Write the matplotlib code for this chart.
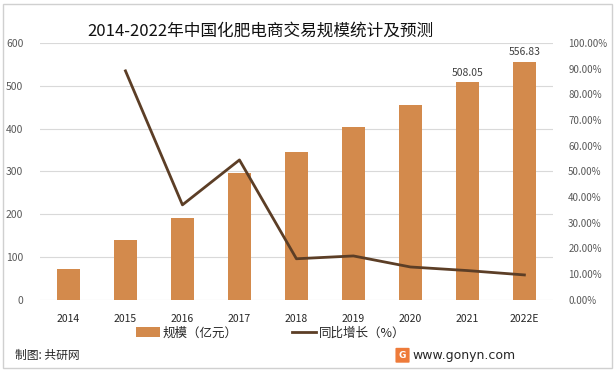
import matplotlib.pyplot as plt
from matplotlib.patches import Rectangle, FancyBboxPatch
from matplotlib.ticker import FuncFormatter

plt.rcParams['font.family'] = ['Noto Sans CJK SC', 'DejaVu Sans']

# data
years = ['2014', '2015', '2016', '2017', '2018', '2019', '2020', '2021', '2022E']
scale = [72, 140, 191, 296, 346, 404, 455, 508.05, 556.83]   # 亿元
growth = [None, 0.892, 0.370, 0.545, 0.160, 0.171, 0.128, 0.114, 0.097]
labelled = {7: '508.05', 8: '556.83'}

bar_color = '#D38A4C'
line_color = '#5C3E26'
tick_color = '#595959'

fig = plt.figure(figsize=(6.15, 3.72), dpi=100)
ax = fig.add_axes([0.065, 0.194, 0.834, 0.690])
ax2 = ax.twinx()

x = list(range(len(years)))
ax.bar(x, scale, width=0.41, color=bar_color, zorder=2, label='规模（亿元）')
for i, txt in labelled.items():
    ax.text(i, scale[i] + 10, txt, ha='center', va='bottom', fontsize=7.5, color='#404040')

gx = [i for i, g in zip(x, growth) if g is not None]
gy = [g for g in growth if g is not None]
ax2.plot(gx, gy, color=line_color, lw=2.0, zorder=3, label='同比增长（%）')

ax.set_xlim(-0.5, len(years) - 0.5)
ax.set_ylim(0, 600)
ax.set_yticks(range(0, 601, 100))
ax2.set_ylim(0, 1.0)
ax2.set_yticks([i / 10 for i in range(11)])
ax2.yaxis.set_major_formatter(FuncFormatter(lambda v, p: f'{v * 100:.2f}%'))

ax.set_xticks(x)
ax.set_xticklabels(years)
ax.grid(axis='y', color='#D9D9D9', lw=0.8, zorder=0)
ax.set_axisbelow(True)
for a in (ax, ax2):
    for s in a.spines.values():
        s.set_visible(False)
ax.tick_params(axis='y', length=0, labelsize=7.5, labelcolor=tick_color, pad=12)
ax2.tick_params(axis='y', length=0, labelsize=7, labelcolor=tick_color, pad=11)
ax.tick_params(axis='x', length=0, labelsize=7.5, labelcolor='#262626', pad=10)

fig.text(0.423, 0.917, '2014-2022年中国化肥电商交易规模统计及预测', ha='center', va='center',
         fontsize=12, color='#111111')

h1, l1 = ax.get_legend_handles_labels()
h2, l2 = ax2.get_legend_handles_labels()
fig.legend(h1 + h2, l1 + l2, loc='center', bbox_to_anchor=(0.44, 0.105), ncol=2,
           frameon=False, fontsize=9, handlelength=1.9, handleheight=0.9,
           columnspacing=4.4, handletextpad=0.2, labelcolor='#262626')

fig.text(0.025, 0.045, '制图: 共研网', fontsize=8.5, color='#262626', va='center')
fig.text(0.671, 0.045, 'www.gonyn.com', fontsize=9, color='#262626', va='center',
         family=['DejaVu Sans'])
logo = FancyBboxPatch((0.645, 0.027), 0.019, 0.036, boxstyle='round,pad=0.002',
                      transform=fig.transFigure, facecolor='#EE7B3A', edgecolor='none')
fig.patches.append(logo)
fig.text(0.6545, 0.045, 'G', fontsize=6.5, color='white', weight='bold', ha='center', va='center',
         family=['DejaVu Sans'])

fig.patches.append(Rectangle((0.005, 0.01), 0.99, 0.98, transform=fig.transFigure,
                             fill=False, edgecolor='#D0D0D0', lw=1))

fig.savefig('out.png', dpi=100)
